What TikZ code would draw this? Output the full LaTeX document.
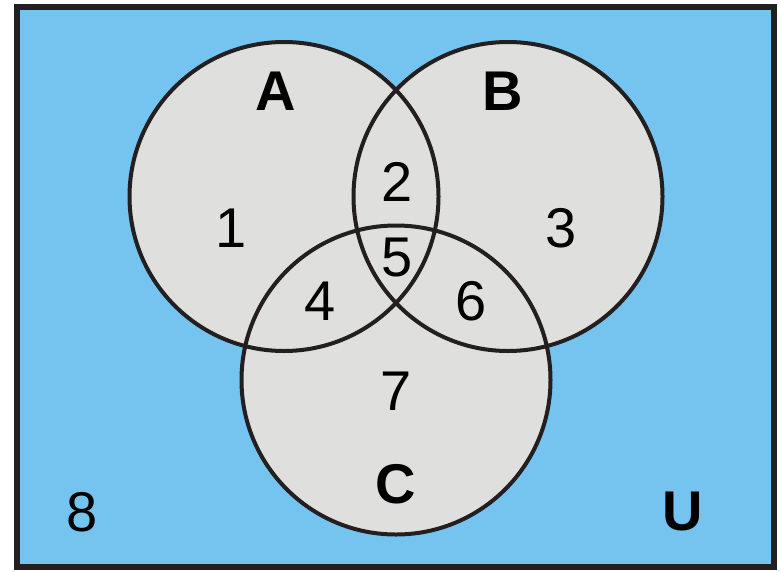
\documentclass[tikz,border=0pt]{standalone}
\usepackage{fontspec}
\setmainfont{Liberation Sans}
\definecolor{bgblue}{HTML}{75C4F0}
\definecolor{setgray}{HTML}{DFDFDD}
\definecolor{edge}{HTML}{231F20}
\begin{document}
\begin{tikzpicture}[x=1pt,y=-1pt,
  lbl/.style={anchor=base,inner sep=0pt,font=\fontsize{56}{60}\selectfont},
  setlbl/.style={lbl,font=\fontsize{56}{60}\selectfont\bfseries},
  setcircle/.style={draw=edge,line width=4pt}]
\useasboundingbox (0,0) rectangle (781,571);
\node[draw=edge,line width=6pt,fill=bgblue,minimum width=757pt,minimum height=560pt,inner sep=0pt] (U) at (395.5,287) {};
\fill[setgray] (284,196.5) circle (154.5);
\fill[setgray] (508,196.5) circle (154.5);
\fill[setgray] (396,380) circle (154.5);
\draw[setcircle] (284,196.5) circle (154.5);
\draw[setcircle] (508,196.5) circle (154.5);
\draw[setcircle] (396,380) circle (154.5);
\node[setlbl] (lA) at (276,110.5) {A};
\node[setlbl] (lB) at (503,110.5) {B};
\node[setlbl] (lC) at (396,503) {C};
\node[setlbl] (lU) at (683,530) {U};
\node[lbl] (n1) at (231,247) {1};
\node[lbl] (n2) at (397,201) {2};
\node[lbl] (n3) at (561,247) {3};
\node[lbl] (n4) at (320,320) {4};
\node[lbl] (n5) at (397,276) {5};
\node[lbl] (n6) at (471,320) {6};
\node[lbl] (n7) at (396,410) {7};
\node[lbl] (n8) at (82,531) {8};
\end{tikzpicture}
\end{document}
